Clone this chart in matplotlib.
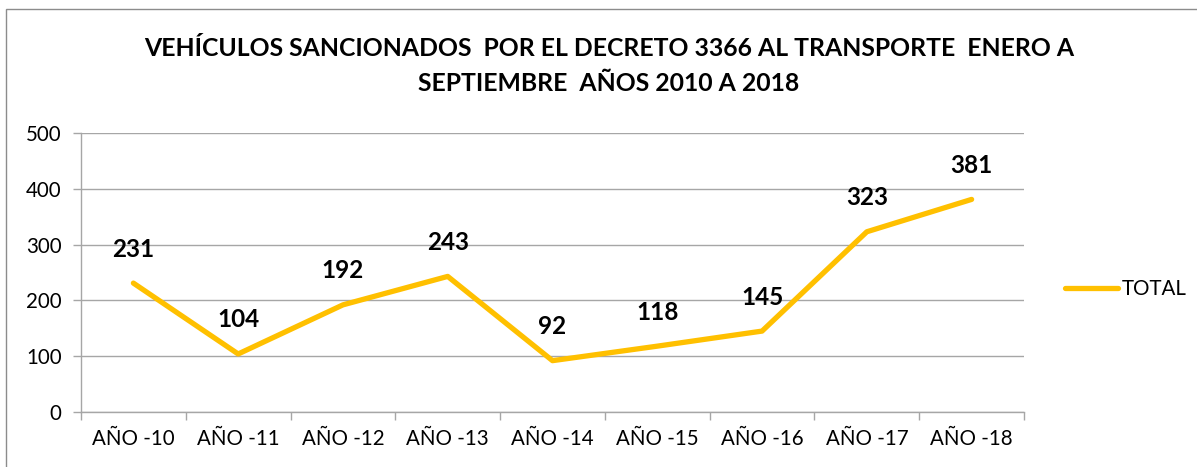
import matplotlib
matplotlib.use("Agg")
import matplotlib.pyplot as plt
from matplotlib.patches import Rectangle
import numpy as np

categories = ["AÑO -10", "AÑO -11", "AÑO -12", "AÑO -13", "AÑO -14",
              "AÑO -15", "AÑO -16", "AÑO -17", "AÑO -18"]
values = [231, 104, 192, 243, 92, 118, 145, 323, 381]
series_name = "TOTAL"
title = "VEHÍCULOS SANCIONADOS  POR EL DECRETO 3366 AL TRANSPORTE  ENERO A\nSEPTIEMBRE  AÑOS 2010 A 2018"

plt.rcParams['font.family'] = ['Lato', 'DejaVu Sans']

W, H = 1197, 467
fig = plt.figure(figsize=(W/100, H/100), dpi=100)
ax = fig.add_axes([81/W, 1-412/H, (1024-81)/W, (412-133)/H])

gray = "#A6A6A6"
x = np.arange(len(categories))
line, = ax.plot(x, values, color="#FFC000", lw=3.8, solid_capstyle="round",
                solid_joinstyle="round", label=series_name, zorder=3)

for xi, v in zip(x, values):
    ax.annotate(str(v), (xi, v), xytext=(0, 34), textcoords="offset pixels",
                ha="center", va="center", fontsize=17.5, fontweight="bold", color="black")

ax.set_xlim(-0.5, len(categories)-0.5)
ax.set_ylim(0, 500)
ax.set_yticks(np.arange(0, 501, 100))
ax.yaxis.grid(True, color=gray, lw=1)
ax.set_axisbelow(True)
ax.set_xticks(x)
ax.set_xticklabels(categories)
ax.set_xticks(np.arange(-0.5, len(categories)), minor=True)
ax.tick_params(axis='x', which='major', length=0, pad=12, labelsize=14.8)
ax.tick_params(axis='x', which='minor', length=6, color=gray, width=1)
ax.tick_params(axis='y', length=6, color=gray, width=1, labelsize=14.8, pad=8)
for s in ["top", "right"]:
    ax.spines[s].set_visible(False)
for s in ["left", "bottom"]:
    ax.spines[s].set_color(gray)
    ax.spines[s].set_linewidth(1)

fig.text(609/W, 1-66/H, title, ha="center", va="center", fontsize=17.8,
         fontweight="bold", linespacing=1.65)

leg = fig.legend(handles=[line], loc="center left", bbox_to_anchor=(1046/W, 1-289/H),
                 frameon=False, fontsize=14.8, handlelength=2.6, handletextpad=0.2)

fig.patches.append(Rectangle((6/W, -0.1), 1.2, 1-9/H+0.1, transform=fig.transFigure,
                             fill=False, edgecolor="#8C8C8C", lw=1))

fig.savefig("out.png", dpi=100)
